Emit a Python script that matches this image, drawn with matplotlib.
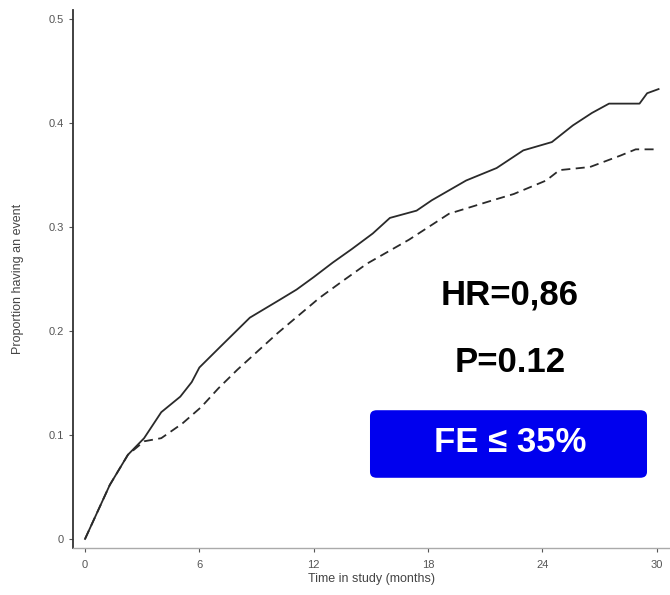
import numpy as np
import matplotlib
matplotlib.use('Agg')
import matplotlib.pyplot as plt
from matplotlib.patches import FancyBboxPatch

plt.rcParams['font.family'] = ['Liberation Sans', 'DejaVu Sans']

# solid curve (higher event rate)
solid_months = [0, 0.5, 1.3, 2.25, 3.1, 4.0, 5.0, 5.6, 6.0, 7.1, 8.65, 10.2, 11.1, 12.0,
                13.0, 14.0, 15.1, 16.0, 17.4, 18.2, 20.0, 21.6, 23.0, 24.5, 25.6, 26.6,
                27.5, 29.1, 29.5, 30.1]
solid_vals = [0, 0.02, 0.052, 0.081, 0.097, 0.122, 0.137, 0.151, 0.165, 0.185, 0.213, 0.23,
              0.24, 0.252, 0.266, 0.279, 0.294, 0.309, 0.316, 0.326, 0.345, 0.357, 0.374,
              0.382, 0.398, 0.41, 0.419, 0.419, 0.429, 0.433]

# dashed curve
dash_months = [0, 0.5, 1.3, 2.25, 3.1, 4.0, 5.1, 6.1, 7.0, 8.0, 10.1, 12.3, 13.5, 14.8,
               17.0, 19.1, 21.4, 22.5, 24.2, 24.9, 26.5, 28.1, 28.9, 30.0]
dash_vals = [0, 0.02, 0.052, 0.081, 0.094, 0.097, 0.111, 0.127, 0.145, 0.163, 0.198, 0.232,
             0.248, 0.265, 0.288, 0.313, 0.326, 0.332, 0.345, 0.355, 0.358, 0.369, 0.375,
             0.375]

x_ticks = [0, 6, 12, 18, 24, 30]
y_ticks = [0, 0.1, 0.2, 0.3, 0.4, 0.5]
y_ticklabels = ['0', '0.1', '0.2', '0.3', '0.4', '0.5']

fig = plt.figure(figsize=(6.7, 5.95), dpi=100)
ax = fig.add_axes([0.109, 0.079, 0.891, 0.904])

ax.plot(solid_months, solid_vals, color='#2a2a2a', lw=1.3)
ax.plot(dash_months, dash_vals, color='#2a2a2a', lw=1.3, dashes=(5, 3))

ax.set_xlim(-0.63, 30.7)
ax.set_ylim(-0.0087, 0.509)
ax.set_xticks(x_ticks)
ax.set_yticks(y_ticks)
ax.set_yticklabels(y_ticklabels)
ax.tick_params(labelsize=8, colors='#555555', length=3, width=0.8)
ax.tick_params(axis='x', pad=6)
for s in ['top', 'right']:
    ax.spines[s].set_visible(False)
ax.spines['left'].set_color('#333333')
ax.spines['left'].set_linewidth(1.3)
ax.spines['bottom'].set_color('#aaaaaa')
ax.spines['bottom'].set_linewidth(1.0)

ax.set_xlabel('Time in study (months)', fontsize=9, color='#444444', labelpad=2)
ax.set_ylabel('Proportion having an event', fontsize=9, color='#444444', labelpad=18)

fig.text(0.761, 1 - 295 / 595, 'HR=0,86', fontsize=25, fontweight='bold',
         ha='center', va='center')
fig.text(0.761, 1 - 363 / 595, 'P=0.12', fontsize=25, fontweight='bold',
         ha='center', va='center')

box = FancyBboxPatch((372 / 670, 1 - 476 / 595), 273 / 670, 64 / 595,
                     boxstyle='round,pad=0.003,rounding_size=0.01',
                     transform=fig.transFigure, facecolor='#0000ee', edgecolor='none')
fig.patches.append(box)
fig.text(0.761, 1 - 443 / 595, 'FE ≤ 35%', fontsize=25, fontweight='bold',
         color='white', ha='center', va='center', family=['Liberation Sans', 'DejaVu Sans'])

fig.savefig('out.png', dpi=100)
